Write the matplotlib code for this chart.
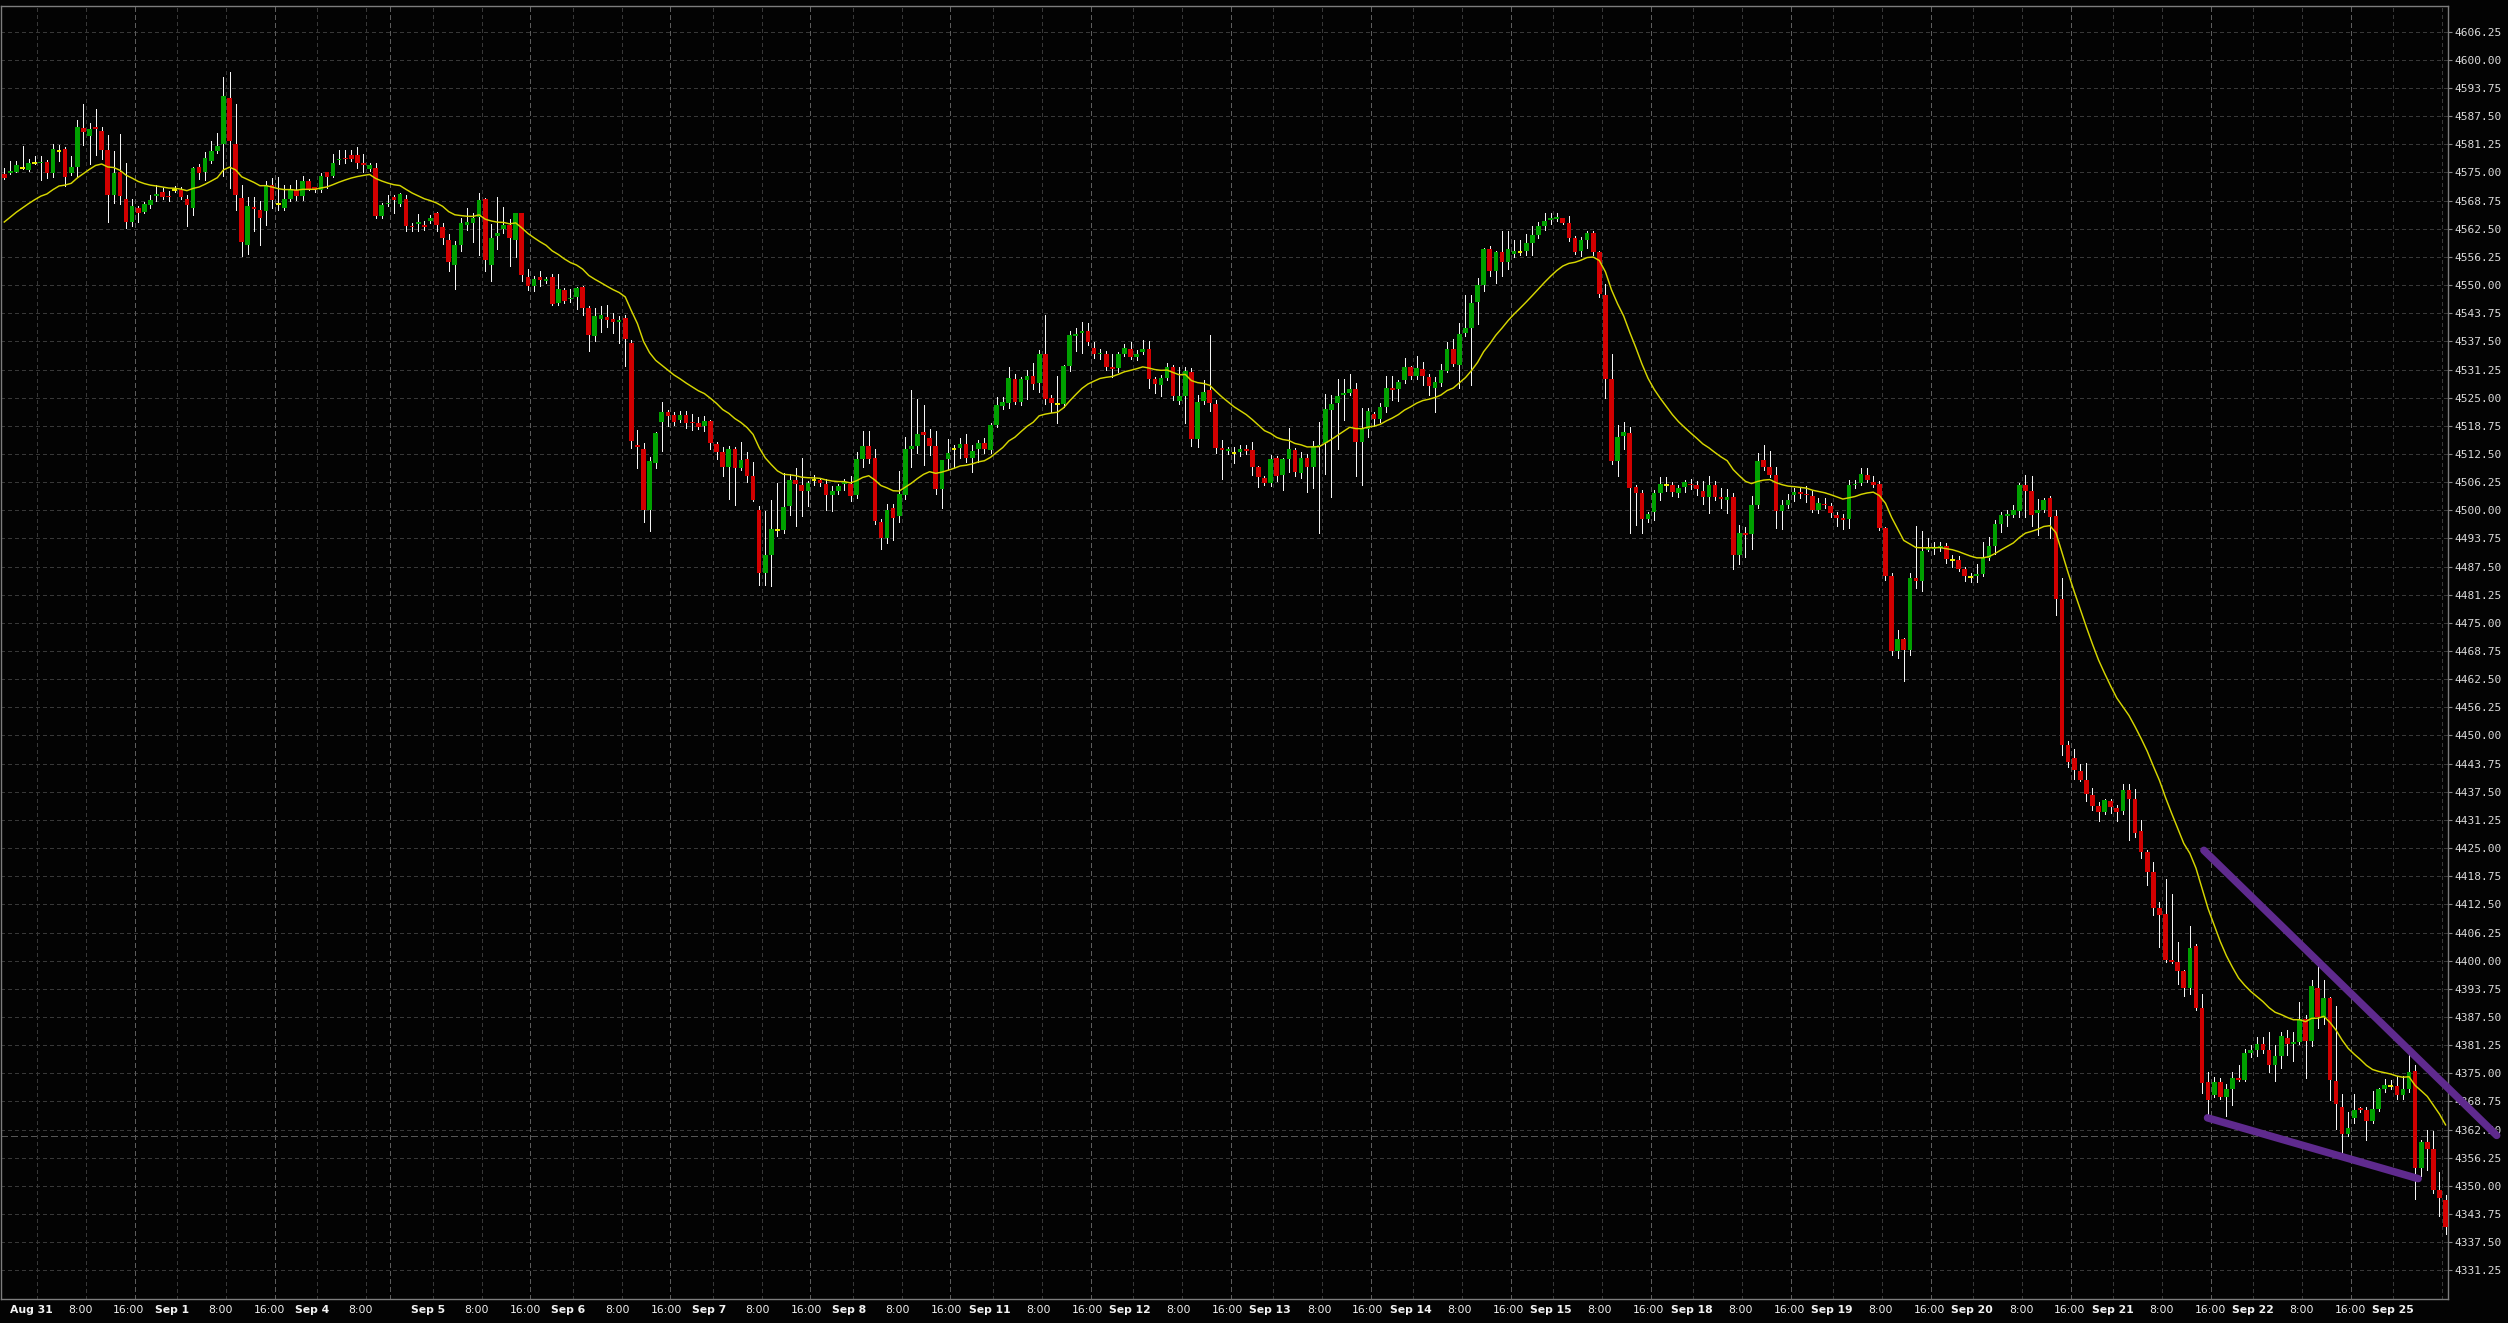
import numpy as np
import pandas as pd
import matplotlib
matplotlib.use("Agg")
import matplotlib.pyplot as plt
from matplotlib.transforms import blended_transform_factory

# ---------------- data (hourly OHLC) ----------------
opens = [
    4574.7, 4574.9, 4575.2, 4576.1, 4575.6, 4577.2, 4577.0, 4577.4, 4574.9, 4579.7,
    4580.3, 4574.9, 4576.3, 4584.9, 4583.2, 4585.2, 4584.3, 4579.9, 4570.0, 4575.2,
    4569.1, 4564.1, 4567.2, 4566.3, 4567.8, 4569.7, 4570.6, 4569.8, 4571.0, 4571.0,
    4569.1, 4567.2, 4576.3, 4575.0, 4577.6, 4579.8, 4581.3, 4591.6, 4581.4, 4569.4,
    4558.8, 4567.4, 4566.7, 4566.4, 4572.2, 4568.0, 4567.1, 4569.2, 4571.2, 4569.8,
    4573.0, 4571.7, 4571.0, 4575.0, 4574.3, 4577.7, 4578.3, 4578.9, 4578.9, 4577.1,
    4575.7, 4576.1, 4565.3, 4568.0, 4569.5, 4567.9, 4569.2, 4563.2, 4563.6, 4563.3,
    4564.2, 4565.9, 4562.8, 4560.1, 4554.4, 4558.9, 4563.3, 4563.7, 4565.2, 4569.0,
    4554.4, 4561.0, 4562.5, 4563.4, 4560.0, 4565.9, 4551.9, 4549.8, 4551.7, 4550.9,
    4551.8, 4546.1, 4548.8, 4546.8, 4547.3, 4549.5, 4545.0, 4538.8, 4542.4, 4543.0,
    4542.4, 4541.9, 4542.7, 4537.2, 4514.4, 4513.5, 4500.0, 4510.5, 4519.6, 4521.9,
    4521.2, 4520.0, 4521.2, 4519.7, 4519.4, 4518.8, 4519.9, 4514.8, 4512.9, 4509.7,
    4513.5, 4509.3, 4511.4, 4507.7, 4500.1, 4486.0, 4490.0, 4495.7, 4495.6, 4500.9,
    4506.8, 4505.6, 4504.2, 4506.8, 4506.8, 4505.9, 4503.4, 4504.2, 4505.8, 4505.8,
    4503.3, 4511.3, 4514.2, 4511.6, 4497.4, 4493.9, 4500.6, 4498.7, 4503.3, 4513.6,
    4514.2, 4517.3, 4516.1, 4514.2, 4504.7, 4511.3, 4513.5, 4513.9, 4514.8, 4511.6,
    4513.5, 4515.0, 4513.3, 4518.9, 4523.2, 4523.9, 4529.1, 4524.1, 4528.9, 4529.9,
    4528.3, 4534.7, 4524.9, 4523.5, 4523.7, 4532.0, 4538.7, 4539.4, 4539.8, 4536.1,
    4534.6, 4534.8, 4531.8, 4531.6, 4534.8, 4535.9, 4534.1, 4535.2, 4535.8, 4529.1,
    4527.8, 4529.4, 4531.7, 4524.2, 4525.4, 4530.7, 4515.8, 4524.2, 4526.7, 4523.7,
    4513.9, 4513.1, 4512.7, 4513.0, 4513.7, 4513.3, 4509.5, 4507.1, 4506.0, 4511.5,
    4507.8, 4511.3, 4513.3, 4508.2, 4511.7, 4509.6, 4514.2, 4515.0, 4522.3, 4523.8,
    4525.6, 4526.0, 4527.0, 4515.2, 4518.0, 4521.3, 4520.3, 4523.0, 4527.1, 4526.9,
    4528.9, 4531.8, 4529.8, 4531.3, 4529.5, 4527.2, 4528.2, 4531.0, 4535.9, 4532.3,
    4539.3, 4540.5, 4546.2, 4550.1, 4558.0, 4553.2, 4557.3, 4555.2, 4556.8, 4557.4,
    4557.6, 4559.3, 4561.2, 4563.2, 4564.5, 4564.7, 4564.8, 4563.8, 4560.4, 4557.6,
    4560.0, 4561.6, 4557.4, 4547.8, 4529.2, 4510.9, 4516.5, 4517.1, 4505.1, 4503.9,
    4498.0, 4499.6, 4503.9, 4505.7, 4505.7, 4503.9, 4505.2, 4505.9, 4505.5, 4504.3,
    4502.9, 4505.5, 4503.0, 4502.2, 4503.0, 4490.0, 4494.9, 4494.8, 4501.1, 4511.2,
    4509.5, 4507.9, 4499.9, 4501.2, 4503.3, 4504.0, 4503.7, 4503.2, 4500.0, 4501.5,
    4501.0, 4499.0, 4498.3, 4498.1, 4505.5, 4506.0, 4507.9, 4506.3, 4505.9, 4496.0,
    4485.4, 4468.8, 4471.4, 4469.0, 4485.0, 4484.2, 4491.1, 4491.4, 4491.6, 4492.1,
    4489.0, 4489.0, 4487.0, 4485.1, 4485.3, 4485.9, 4489.5, 4492.0, 4497.0, 4498.8,
    4499.0, 4499.8, 4505.5, 4504.2, 4499.4, 4500.1, 4502.7, 4498.8, 4480.3, 4447.9,
    4444.9, 4442.2, 4440.2, 4436.8, 4434.3, 4433.1, 4435.4, 4434.0, 4433.2, 4438.0,
    4436.0, 4428.8, 4424.2, 4419.7, 4411.6, 4410.3, 4400.1, 4399.6, 4397.7, 4394.0,
    4403.2, 4389.6, 4373.0, 4370.1, 4373.0, 4369.7, 4371.4, 4373.9, 4373.6, 4379.5,
    4380.1, 4381.4, 4380.1, 4376.8, 4378.8, 4382.9, 4381.6, 4381.9, 4387.1, 4382.2,
    4394.0, 4387.2, 4391.6, 4373.2, 4367.6, 4361.6, 4365.1, 4367.3, 4366.9, 4364.4,
    4367.1, 4371.4, 4372.1, 4372.1, 4370.1, 4371.6, 4375.6, 4354.0, 4359.7, 4358.1,
    4349.0, 4346.9,
]
highs = [
    4576.0, 4577.5, 4577.5, 4580.9, 4578.0, 4578.6, 4578.6, 4577.8, 4581.4, 4581.2,
    4580.6, 4578.7, 4586.7, 4590.3, 4586.0, 4589.1, 4585.0, 4583.4, 4579.7, 4583.6,
    4577.1, 4569.0, 4567.6, 4568.4, 4570.0, 4572.3, 4571.5, 4570.8, 4572.0, 4571.7,
    4570.0, 4576.3, 4576.9, 4579.6, 4582.0, 4583.8, 4596.1, 4597.4, 4590.3, 4572.3,
    4569.6, 4569.6, 4568.6, 4573.0, 4573.8, 4573.9, 4572.3, 4572.3, 4573.4, 4574.3,
    4573.6, 4571.8, 4574.9, 4575.0, 4579.0, 4580.0, 4579.9, 4579.9, 4580.6, 4579.2,
    4577.2, 4577.2, 4568.2, 4570.0, 4570.0, 4570.4, 4570.0, 4563.8, 4565.7, 4564.3,
    4565.5, 4566.3, 4563.7, 4561.4, 4559.8, 4565.0, 4567.0, 4566.0, 4570.4, 4569.4,
    4563.5, 4569.6, 4567.4, 4564.6, 4565.9, 4566.0, 4553.6, 4552.0, 4553.1, 4551.8,
    4552.4, 4552.4, 4549.3, 4549.2, 4549.6, 4549.8, 4545.3, 4545.0, 4545.4, 4545.5,
    4543.7, 4543.2, 4543.4, 4537.8, 4517.9, 4515.0, 4511.8, 4517.4, 4524.0, 4522.3,
    4521.8, 4522.0, 4522.0, 4521.4, 4520.6, 4520.9, 4520.1, 4515.2, 4514.0, 4514.3,
    4514.0, 4515.2, 4512.9, 4510.8, 4500.9, 4499.8, 4502.2, 4506.0, 4508.3, 4508.1,
    4509.4, 4511.6, 4506.6, 4507.9, 4507.2, 4507.0, 4505.3, 4505.8, 4506.9, 4507.6,
    4513.0, 4517.6, 4517.6, 4513.7, 4498.1, 4501.5, 4501.5, 4508.7, 4516.3, 4526.7,
    4524.7, 4523.4, 4518.0, 4517.6, 4511.2, 4515.8, 4514.4, 4516.0, 4517.0, 4514.4,
    4515.6, 4516.0, 4519.3, 4525.2, 4525.2, 4531.9, 4530.2, 4529.6, 4531.1, 4532.6,
    4535.6, 4543.3, 4525.6, 4529.8, 4532.3, 4539.9, 4540.4, 4541.7, 4541.5, 4537.4,
    4535.9, 4535.3, 4534.8, 4535.1, 4537.0, 4537.4, 4535.6, 4537.7, 4537.6, 4529.5,
    4530.0, 4532.6, 4532.2, 4531.9, 4531.9, 4531.6, 4525.6, 4529.0, 4538.9, 4524.4,
    4515.5, 4514.0, 4514.1, 4514.6, 4514.6, 4515.1, 4509.9, 4507.6, 4512.2, 4512.0,
    4511.6, 4518.3, 4513.8, 4513.0, 4512.5, 4515.3, 4519.5, 4525.8, 4525.6, 4529.1,
    4529.1, 4530.2, 4528.2, 4522.8, 4522.8, 4521.9, 4523.8, 4529.9, 4529.9, 4528.9,
    4533.7, 4532.0, 4534.3, 4532.9, 4530.2, 4529.5, 4532.4, 4537.3, 4538.0, 4541.6,
    4547.8, 4547.7, 4551.5, 4558.3, 4558.6, 4557.6, 4562.1, 4562.1, 4559.9, 4559.9,
    4561.4, 4563.2, 4564.1, 4566.1, 4566.0, 4566.1, 4565.0, 4565.4, 4560.9, 4560.6,
    4562.1, 4561.9, 4557.6, 4550.3, 4534.8, 4518.9, 4519.6, 4518.4, 4505.6, 4504.4,
    4499.6, 4504.4, 4507.3, 4507.3, 4506.3, 4505.5, 4506.8, 4506.9, 4506.4, 4506.4,
    4507.5, 4506.4, 4505.0, 4504.7, 4503.8, 4496.8, 4496.3, 4503.2, 4512.7, 4514.4,
    4513.1, 4509.7, 4502.2, 4503.7, 4505.0, 4505.0, 4505.3, 4504.2, 4502.8, 4502.8,
    4501.6, 4499.7, 4499.2, 4506.8, 4506.8, 4509.3, 4509.3, 4507.6, 4506.4, 4496.2,
    4486.0, 4473.4, 4471.6, 4486.0, 4496.6, 4495.3, 4493.8, 4492.9, 4492.9, 4492.7,
    4490.1, 4489.8, 4487.5, 4486.1, 4488.1, 4492.9, 4494.0, 4497.9, 4499.7, 4500.1,
    4501.2, 4506.1, 4507.9, 4507.5, 4502.6, 4502.7, 4503.1, 4500.0, 4484.9, 4448.7,
    4446.9, 4443.6, 4443.9, 4438.3, 4435.2, 4436.0, 4436.0, 4434.5, 4439.3, 4439.2,
    4438.2, 4431.3, 4424.6, 4421.8, 4413.1, 4418.2, 4414.8, 4404.1, 4398.0, 4407.6,
    4403.6, 4392.6, 4375.3, 4374.1, 4374.0, 4372.7, 4375.3, 4376.9, 4380.3, 4381.3,
    4383.0, 4383.0, 4384.1, 4381.3, 4384.1, 4384.6, 4384.1, 4390.9, 4388.0, 4395.8,
    4398.8, 4395.6, 4392.0, 4389.9, 4370.5, 4366.3, 4370.3, 4367.6, 4367.4, 4371.0,
    4371.8, 4373.8, 4373.6, 4374.3, 4374.3, 4379.0, 4376.8, 4360.2, 4362.3, 4362.2,
    4353.1, 4347.9,
]
lows = [
    4573.5, 4574.6, 4575.0, 4575.8, 4575.3, 4576.8, 4573.4, 4573.8, 4574.1, 4577.5,
    4572.0, 4574.5, 4574.1, 4581.0, 4576.9, 4578.9, 4578.0, 4564.1, 4568.2, 4568.0,
    4562.6, 4563.2, 4564.1, 4565.9, 4567.2, 4568.6, 4569.0, 4568.6, 4570.6, 4569.0,
    4563.2, 4565.6, 4573.5, 4573.4, 4577.0, 4579.3, 4574.3, 4571.5, 4566.6, 4556.5,
    4557.0, 4561.9, 4558.8, 4563.4, 4567.0, 4566.6, 4566.7, 4568.6, 4568.9, 4568.9,
    4571.0, 4570.7, 4570.7, 4571.6, 4574.0, 4576.8, 4577.0, 4577.5, 4576.0, 4575.0,
    4575.4, 4564.9, 4565.0, 4567.6, 4566.0, 4567.6, 4562.1, 4561.9, 4562.0, 4562.3,
    4563.8, 4562.0, 4559.1, 4553.1, 4549.2, 4557.5, 4562.2, 4559.5, 4556.7, 4553.1,
    4550.9, 4557.9, 4561.6, 4554.2, 4556.3, 4550.9, 4549.0, 4548.7, 4549.8, 4550.4,
    4545.5, 4545.6, 4546.0, 4546.3, 4544.7, 4543.3, 4535.3, 4537.6, 4539.6, 4540.8,
    4539.3, 4537.1, 4532.1, 4513.9, 4509.4, 4497.5, 4495.5, 4509.4, 4513.2, 4518.8,
    4519.0, 4519.6, 4518.2, 4517.8, 4518.0, 4517.6, 4513.6, 4511.4, 4507.6, 4502.6,
    4501.1, 4508.9, 4506.3, 4502.0, 4483.5, 4483.5, 4483.1, 4494.2, 4495.0, 4499.0,
    4496.6, 4498.8, 4500.9, 4505.7, 4505.4, 4500.1, 4499.8, 4503.7, 4504.5, 4502.0,
    4502.7, 4509.6, 4510.5, 4497.0, 4491.3, 4492.8, 4493.5, 4497.4, 4502.6, 4509.6,
    4512.7, 4510.0, 4512.2, 4503.7, 4500.5, 4509.2, 4509.5, 4511.5, 4510.7, 4508.5,
    4510.7, 4512.7, 4512.8, 4518.4, 4522.4, 4522.6, 4523.5, 4523.4, 4524.6, 4527.0,
    4526.3, 4523.5, 4521.9, 4519.3, 4523.0, 4531.0, 4535.3, 4535.0, 4536.7, 4533.9,
    4533.6, 4531.1, 4529.6, 4530.7, 4534.2, 4533.5, 4533.4, 4534.6, 4527.2, 4526.1,
    4525.4, 4528.9, 4524.4, 4523.6, 4519.3, 4514.2, 4514.1, 4523.7, 4522.1, 4512.7,
    4507.0, 4512.6, 4510.5, 4512.0, 4512.5, 4507.8, 4505.2, 4505.5, 4505.3, 4506.5,
    4504.6, 4508.6, 4507.6, 4507.1, 4504.0, 4504.9, 4495.0, 4508.0, 4503.0, 4513.6,
    4520.1, 4525.5, 4507.6, 4505.6, 4516.2, 4518.7, 4519.6, 4521.8, 4524.5, 4524.3,
    4528.2, 4529.2, 4529.2, 4527.9, 4525.6, 4521.8, 4527.6, 4530.6, 4532.0, 4527.2,
    4538.6, 4527.8, 4541.4, 4548.7, 4552.0, 4550.4, 4552.1, 4553.6, 4556.2, 4556.7,
    4556.7, 4556.7, 4560.4, 4562.2, 4563.6, 4564.2, 4563.5, 4559.8, 4556.8, 4556.5,
    4558.2, 4556.7, 4547.3, 4525.0, 4510.2, 4507.6, 4513.7, 4495.0, 4496.8, 4494.9,
    4497.4, 4497.8, 4502.3, 4504.3, 4503.1, 4503.0, 4504.1, 4504.8, 4503.5, 4501.3,
    4499.4, 4502.2, 4500.4, 4499.3, 4486.9, 4488.0, 4489.6, 4491.3, 4500.5, 4509.0,
    4507.4, 4496.0, 4495.9, 4500.6, 4502.1, 4502.8, 4501.9, 4499.7, 4499.5, 4500.5,
    4498.4, 4496.4, 4495.9, 4496.0, 4505.0, 4505.5, 4506.2, 4505.2, 4495.6, 4484.6,
    4467.9, 4467.2, 4462.0, 4467.9, 4482.7, 4482.0, 4490.9, 4490.4, 4491.0, 4488.2,
    4487.3, 4486.5, 4484.2, 4484.0, 4484.0, 4485.5, 4488.9, 4490.2, 4495.1, 4496.6,
    4498.4, 4498.6, 4498.4, 4496.4, 4494.5, 4499.6, 4493.9, 4476.8, 4445.6, 4443.1,
    4440.4, 4439.8, 4435.5, 4433.5, 4431.0, 4432.6, 4432.7, 4430.9, 4432.5, 4426.8,
    4427.5, 4422.8, 4416.8, 4410.1, 4403.1, 4399.8, 4399.5, 4394.9, 4392.1, 4392.7,
    4389.0, 4370.6, 4366.0, 4369.7, 4369.3, 4365.6, 4368.0, 4373.2, 4373.3, 4378.6,
    4378.9, 4379.5, 4375.3, 4373.3, 4376.2, 4379.0, 4377.8, 4381.5, 4374.0, 4381.0,
    4385.0, 4386.0, 4369.1, 4362.7, 4357.5, 4361.0, 4364.0, 4366.5, 4360.1, 4363.9,
    4366.6, 4370.9, 4371.4, 4369.2, 4369.2, 4370.9, 4347.1, 4352.2, 4353.6, 4348.5,
    4343.4, 4339.4,
]
closes = [
    4573.7, 4575.4, 4576.7, 4576.1, 4577.1, 4577.2, 4577.2, 4574.9, 4580.3, 4579.7,
    4574.1, 4576.3, 4585.2, 4583.9, 4584.7, 4584.7, 4579.9, 4570.0, 4574.9, 4569.7,
    4564.1, 4567.5, 4566.0, 4568.0, 4568.9, 4570.2, 4569.5, 4569.5, 4571.0, 4569.5,
    4567.7, 4576.1, 4574.9, 4578.3, 4579.8, 4580.9, 4592.0, 4581.9, 4569.9, 4559.5,
    4567.6, 4566.8, 4565.0, 4572.2, 4568.8, 4568.0, 4569.2, 4571.3, 4569.8, 4573.0,
    4571.4, 4571.2, 4574.3, 4574.0, 4577.2, 4578.1, 4577.9, 4577.9, 4577.2, 4576.7,
    4576.6, 4565.3, 4567.7, 4568.3, 4568.8, 4570.2, 4563.2, 4562.8, 4563.9, 4563.0,
    4564.8, 4563.3, 4560.4, 4555.1, 4559.0, 4563.7, 4563.9, 4564.9, 4568.9, 4555.5,
    4560.4, 4561.5, 4563.4, 4560.5, 4565.9, 4552.2, 4549.8, 4551.4, 4551.1, 4551.3,
    4545.9, 4549.2, 4546.4, 4547.2, 4549.3, 4544.9, 4538.9, 4543.2, 4543.3, 4542.2,
    4541.8, 4542.3, 4538.1, 4515.4, 4514.1, 4500.1, 4511.0, 4517.2, 4521.9, 4520.9,
    4519.7, 4521.1, 4519.3, 4519.3, 4518.4, 4519.9, 4514.9, 4512.9, 4509.5, 4513.6,
    4509.3, 4511.2, 4507.7, 4502.3, 4486.0, 4490.0, 4495.8, 4495.7, 4500.8, 4506.8,
    4505.8, 4504.2, 4506.1, 4506.8, 4506.1, 4503.4, 4504.2, 4505.3, 4506.2, 4503.2,
    4511.3, 4514.2, 4511.3, 4497.6, 4493.9, 4500.0, 4498.3, 4503.6, 4513.5, 4514.2,
    4517.0, 4516.7, 4514.2, 4504.7, 4511.1, 4512.7, 4513.5, 4514.7, 4511.6, 4513.1,
    4515.0, 4513.5, 4518.9, 4523.3, 4524.0, 4529.4, 4524.1, 4529.1, 4529.9, 4528.1,
    4534.7, 4524.8, 4523.9, 4523.5, 4532.0, 4538.9, 4539.1, 4539.8, 4537.4, 4534.8,
    4535.0, 4531.9, 4531.4, 4534.8, 4536.1, 4534.1, 4534.8, 4535.8, 4529.1, 4528.0,
    4529.4, 4531.7, 4525.4, 4525.3, 4530.9, 4515.8, 4524.1, 4526.3, 4523.9, 4513.9,
    4513.3, 4513.5, 4512.7, 4513.7, 4513.1, 4509.6, 4507.3, 4506.0, 4511.3, 4507.6,
    4511.3, 4513.5, 4508.5, 4511.7, 4509.6, 4514.2, 4514.6, 4522.4, 4523.5, 4525.3,
    4526.0, 4527.0, 4515.2, 4518.0, 4522.0, 4520.3, 4523.0, 4527.1, 4526.6, 4528.5,
    4531.8, 4529.8, 4531.5, 4529.8, 4527.5, 4528.5, 4531.1, 4535.9, 4532.4, 4539.1,
    4540.5, 4546.0, 4550.1, 4557.9, 4553.2, 4557.3, 4555.2, 4557.9, 4557.6, 4557.4,
    4559.3, 4561.2, 4563.2, 4564.3, 4564.9, 4565.1, 4563.8, 4560.4, 4557.4, 4560.0,
    4561.6, 4557.4, 4548.0, 4529.2, 4510.9, 4516.3, 4517.4, 4505.0, 4503.9, 4498.0,
    4499.1, 4503.8, 4505.9, 4505.7, 4504.0, 4504.9, 4506.2, 4505.5, 4504.8, 4502.9,
    4505.5, 4502.9, 4502.6, 4503.0, 4490.1, 4494.9, 4494.6, 4501.2, 4511.0, 4509.5,
    4507.9, 4499.9, 4501.2, 4502.3, 4504.1, 4503.6, 4503.3, 4500.1, 4501.6, 4501.1,
    4499.4, 4498.3, 4497.9, 4505.5, 4505.7, 4508.1, 4506.8, 4505.7, 4496.0, 4485.4,
    4468.8, 4471.4, 4469.0, 4485.0, 4484.3, 4491.0, 4491.8, 4491.6, 4492.1, 4489.2,
    4489.0, 4487.0, 4485.3, 4485.1, 4485.9, 4489.5, 4492.1, 4497.0, 4499.0, 4499.2,
    4500.0, 4505.5, 4504.2, 4499.0, 4500.1, 4502.3, 4498.4, 4480.3, 4447.9, 4444.2,
    4442.3, 4440.2, 4436.9, 4434.4, 4433.1, 4435.6, 4434.2, 4433.1, 4437.9, 4436.0,
    4428.4, 4424.2, 4419.7, 4411.8, 4410.1, 4400.1, 4399.6, 4397.7, 4394.0, 4402.9,
    4389.4, 4372.8, 4369.0, 4373.0, 4369.7, 4371.4, 4374.0, 4373.6, 4379.4, 4380.1,
    4381.4, 4380.1, 4376.8, 4378.8, 4383.2, 4381.4, 4381.9, 4387.1, 4382.2, 4394.3,
    4387.5, 4391.6, 4373.6, 4368.2, 4361.6, 4362.8, 4366.9, 4366.9, 4364.4, 4367.1,
    4371.4, 4372.3, 4372.1, 4370.1, 4371.6, 4375.3, 4354.0, 4359.7, 4358.1, 4349.1,
    4347.4, 4340.8,
]

# moving average: EMA of closes, first value
ma_start = 4564.0
ma_span = 20

# trading sessions (one per labelled day) and their number of hourly bars
session_days = ["Aug 31", "Sep 1", "Sep 4", "Sep 5", "Sep 6", "Sep 7", "Sep 8",
                "Sep 11", "Sep 12", "Sep 13", "Sep 14", "Sep 15", "Sep 18",
                "Sep 19", "Sep 20", "Sep 21", "Sep 22", "Sep 25"]
session_bars = [23, 23, 19, 23, 23, 23, 23, 23, 23, 23, 23, 23, 23, 23, 23, 23, 23, 15]
hour_labels = ["8:00", "16:00"]

# price axis labels
price_ticks = [4331.25 + 6.25 * k for k in range(45)]
marker_price = 4361.0

# hand-drawn trend lines (bar index, price)
upper_line_x = [361.3, 409.4]
upper_line_y = [4424.5, 4361.2]
lower_line_x = [361.9, 396.5]
lower_line_y = [4365.1, 4351.6]

# ---------------- figure ----------------
W, H = 2508, 1323
BG = "#030303"
GREEN = "#00a000"
RED = "#d20000"
DOJI = "#f0f000"
MA_COL = "#d6d600"
GRID = "#383838"
SESS = "#5c5c5c"
PX = 0.72  # one pixel in points at 100 dpi

fig = plt.figure(figsize=(W / 100, H / 100), dpi=100, facecolor=BG)
ax = fig.add_axes([1 / W, 24 / H, 2447 / W, 1293 / H], facecolor=BG)

n = min(len(opens), len(highs), len(lows), len(closes))
o = np.array(opens[:n]); hi = np.array(highs[:n]); lo = np.array(lows[:n]); c = np.array(closes[:n])
x = np.arange(n)

ax.set_xlim(-0.537, 401.4)
ax.set_ylim(4324.88, 4611.96)

# horizontal grid
for p in price_ticks:
    ax.axhline(p, color=GRID, lw=PX, ls=(0, (3, 3)), zorder=1, antialiased=False)
ax.axhline(marker_price, color="#555555", lw=PX, ls=(0, (6, 4)), zorder=1, antialiased=False)

# vertical grid + time labels
trans = blended_transform_factory(ax.transData, ax.transAxes)
start = 0
for day, nb in zip(session_days, session_bars):
    ticks = []
    if 6 < nb:
        ticks.append((start + 6, day, "bold", GRID, (0, (3, 3))))
    if 14 < nb:
        ticks.append((start + 14, hour_labels[0], "normal", GRID, (0, (3, 3))))
    if 22 < nb:
        ticks.append((start + 22, hour_labels[1], "normal", SESS, (0, (5, 3))))
    elif start + nb < n:
        ticks.append((start + nb - 1, None, "normal", SESS, (0, (5, 3))))
    for t, lab, wt, col, ls in ticks:
        lx = t - 0.575
        ax.axvline(lx, color=col, lw=PX, ls=ls, zorder=1, antialiased=False)
        if lab is not None and t < n - 2:
            ax.text(lx + (t - 393) / 387.0, -0.0083, lab, transform=trans,
                    ha="center", va="center", color="#f2f2f2",
                    fontsize=7.8, fontweight=wt, family="DejaVu Sans", clip_on=False)
    start += nb

# candles
ax.vlines(x, lo, hi, color="#f6f6f6", lw=PX, zorder=2, antialiased=False)
doji = o == c
up = c > o
body_col = np.where(up, GREEN, RED)
nd = ~doji
ax.bar(x[nd], np.maximum(np.abs(c - o), 0.3)[nd], bottom=np.minimum(o, c)[nd],
       width=0.76, color=body_col[nd], linewidth=0, zorder=3)
ax.hlines(c[doji], x[doji] - 0.38, x[doji] + 0.38, color=DOJI, lw=1.4, zorder=3)

# moving average
ma = pd.Series(np.r_[ma_start, c[1:]]).ewm(span=ma_span, adjust=False).mean()
ax.plot(x, ma.values, color=MA_COL, lw=1.05, zorder=4)

# trend lines
for lx_, ly_ in ((upper_line_x, upper_line_y), (lower_line_x, lower_line_y)):
    ax.plot(lx_, ly_, color="#5f2a8e", lw=5.4, solid_capstyle="round",
            zorder=6, clip_on=False)

# axes styling
ax.yaxis.tick_right()
ax.set_yticks(price_ticks)
ax.set_yticklabels(["%.2f" % p for p in price_ticks])
ax.tick_params(axis="y", which="both", length=3, width=0.8, color="#8a8a8a",
               labelcolor="#dcdcdc", labelsize=8.0, pad=1.5)
for lab in ax.get_yticklabels():
    lab.set_family("DejaVu Sans Mono")
ax.set_xticks([])
for s in ax.spines.values():
    s.set_color("#7d7d7d")
    s.set_linewidth(1.0)

fig.savefig("out.png", dpi=100, facecolor=BG)
